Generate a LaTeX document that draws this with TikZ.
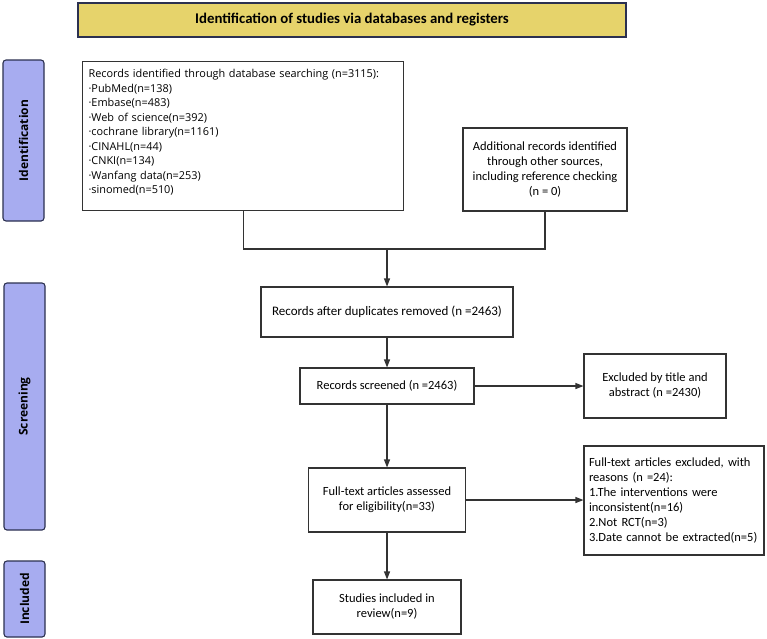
\documentclass[tikz,border=0pt]{standalone}
\usepackage{fontspec}
\setmainfont{Carlito}
\newfontfamily\recfont{Open Sans}
\usepackage{xcolor}
\usetikzlibrary{arrows.meta, positioning}

\definecolor{titleyellow}{HTML}{E6D36B}
\definecolor{sideblue}{HTML}{A7ACF0}
\definecolor{sideedge}{HTML}{2B3050}
\definecolor{lineg}{HTML}{333333}

\begin{document}
\begin{tikzpicture}[
    x=1pt, y=-1pt,
    box/.style={rectangle, draw=lineg, line width=1.1pt, fill=white, align=center, font=\fontsize{12.5}{15}\selectfont, inner sep=3pt},
    titlebox/.style={rectangle, draw=sideedge, line width=1.1pt, fill=titleyellow, minimum width=548pt, minimum height=34pt, font=\bfseries\fontsize{14.8}{16}\selectfont},
    phase/.style={rectangle, rounded corners=3pt, draw=sideedge, line width=1.1pt, fill=sideblue, rotate=90, minimum height=41pt, font=\recfont\bfseries\fontsize{12}{14}\selectfont},
    flow/.style={-{Triangle[length=8pt,width=6pt]}, lineg, line width=1.1pt},
    link/.style={lineg, line width=1.1pt}
  ]
  \useasboundingbox (0,0) rectangle (767,638);

  \node[titlebox] (title) at (352,20) {Identification of studies via databases and registers};

  % Phase labels
  \node[phase, minimum width=161pt] (pid) at (23.5,140.5) {Identification};
  \node[phase, minimum width=247pt] (pscr) at (24.5,406.5) {Screening};
  \node[phase, minimum width=76pt] (pinc) at (24.5,599) {Included};

  % Identification
  \node[box, anchor=north west, align=left, text width=309pt, inner xsep=6pt, inner ysep=3pt, font=\recfont\fontsize{10.9}{14.5}\selectfont] (rec) at (82,61) {\rule{0pt}{13pt}Records identified through database searching (n=3115):\\
    ·PubMed(n=138)\\
    ·Embase(n=483)\\
    ·Web of science(n=392)\\
    ·cochrane library(n=1161)\\
    ·CINAHL(n=44)\\
    ·CNKI(n=134)\\
    ·Wanfang data(n=253)\\
    ·sinomed(n=510)\rule[-14pt]{0pt}{14pt}};
  \node[box, minimum width=164pt, minimum height=83pt] (add) at (545,169.5) {Additional records identified\\ through other sources,\\ including reference checking\\ (n = 0)};
  \coordinate (join) at (387,249);

  % Screening
  \node[box, minimum width=252pt, minimum height=50pt, font=\fontsize{13}{15}\selectfont] (dup) at (387,312) {Records after duplicates removed (n =2463)};
  \node[box, minimum width=174pt, minimum height=36pt] (scr) at (387,386) {Records screened (n =2463)};
  \node[box, minimum width=142pt, minimum height=64pt] (exc1) at (655,386) {Excluded by title and\\ abstract (n =2430)};
  \node[box, minimum width=157pt, minimum height=64pt] (full) at (387,500) {Full-text articles assessed\\ for eligibility(n=33)};
  \node[box, minimum width=180pt, minimum height=109pt, align=left, text width=170pt, inner xsep=5pt] (exc2) at (674,500.5) {Full-text articles excluded, with\\ reasons (n =24):\\ 1.The interventions were\\ inconsistent(n=16)\\ 2.Not RCT(n=3)\\ 3.Date cannot be extracted(n=5)};

  % Included
  \node[box, minimum width=148pt, minimum height=54pt] (inc) at (387,607) {Studies included in\\ review(n=9)};

  % Connectors
  \draw[link] (rec.south) |- (join);
  \draw[link] (add.south) |- (join);
  \draw[flow] (join) -- (dup);
  \draw[flow] (dup) -- (scr);
  \draw[flow] (scr) -- (exc1);
  \draw[flow] (scr) -- (full);
  \draw[flow] (full) -- (exc2.west |- full);
  \draw[flow] (full) -- (inc);
\end{tikzpicture}
\end{document}
